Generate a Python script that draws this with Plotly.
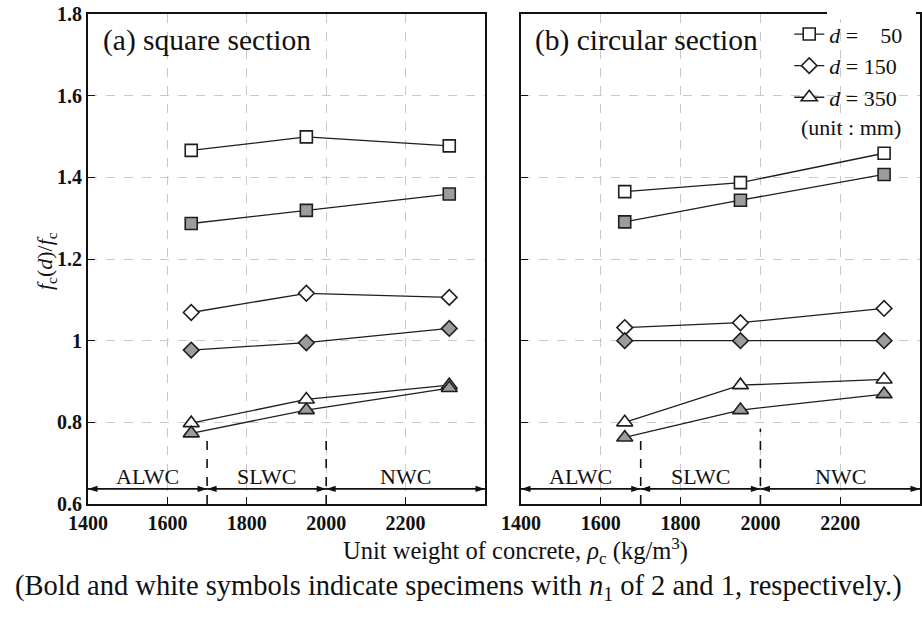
import plotly.graph_objects as go

# Unit weight of concrete (kg/m3) for the three concrete groups
density = [1660, 1950, 2310]

# (a) square section: size-effect ratio, n1 = 1 (white) and n1 = 2 (bold)
sq_d50_n1 = [1.466, 1.499, 1.477]
sq_d50_n2 = [1.287, 1.319, 1.359]
sq_d150_n1 = [1.069, 1.116, 1.106]
sq_d150_n2 = [0.977, 0.995, 1.030]
sq_d350_n1 = [0.798, 0.856, 0.891]
sq_d350_n2 = [0.773, 0.830, 0.884]

# (b) circular section
ci_d50_n1 = [1.365, 1.387, 1.459]
ci_d50_n2 = [1.291, 1.344, 1.407]
ci_d150_n1 = [1.032, 1.044, 1.079]
ci_d150_n2 = [1.000, 1.000, 1.000]
ci_d350_n1 = [0.800, 0.891, 0.905]
ci_d350_n2 = [0.763, 0.830, 0.869]

# Concrete classes and their density limits
zone_names = ["ALWC", "SLWC", "NWC"]
zone_edges = [1400, 1700, 2000, 2400]
zone_divider_tops_a = [0.762, 0.760]
zone_divider_tops_b = [0.769, 0.784]
zone_arrow_level = 0.637

x_ticks = [1400, 1600, 1800, 2000, 2200]
y_ticks = [0.6, 0.8, 1.0, 1.2, 1.4, 1.6, 1.8]
y_tick_text = ["0.6", "0.8", "1", "1.2", "1.4", "1.6", "1.8"]

SERIF = "Liberation Serif"
WHITE = "#ffffff"
GRAY = "#9c9c9c"
EDGE = "#1e1e1e"
INK = "#111111"

fig = go.Figure()

series = [
    ("square", 12, "<i>d</i> =\u2007\u200750", sq_d50_n1, sq_d50_n2, ci_d50_n1, ci_d50_n2),
    ("diamond", 12, "<i>d</i> = 150", sq_d150_n1, sq_d150_n2, ci_d150_n1, ci_d150_n2),
    ("triangle-up", 14, "<i>d</i> = 350", sq_d350_n1, sq_d350_n2, ci_d350_n1, ci_d350_n2),
]

for sym, size, name, a1, a2, b1, b2 in series:
    for vals, fill, axes, show in [
        (a1, WHITE, ("x", "y"), False),
        (a2, GRAY, ("x", "y"), False),
        (b1, WHITE, ("x2", "y2"), True),
        (b2, GRAY, ("x2", "y2"), False),
    ]:
        fig.add_trace(go.Scatter(
            x=density, y=vals, xaxis=axes[0], yaxis=axes[1],
            mode="lines+markers", name=name, showlegend=show,
            line=dict(color=EDGE, width=1.3),
            marker=dict(symbol=sym, size=size, color=fill,
                        line=dict(color=EDGE, width=1.6)),
        ))

# Concrete class ranges: double-headed arrows and dashed dividers
for xa, ya, tops in [("x", "y", zone_divider_tops_a), ("x2", "y2", zone_divider_tops_b)]:
    for i in range(len(zone_names)):
        fig.add_trace(go.Scatter(
            x=[zone_edges[i], zone_edges[i + 1]],
            y=[zone_arrow_level, zone_arrow_level],
            xaxis=xa, yaxis=ya, mode="lines+markers", showlegend=False,
            hoverinfo="skip", line=dict(color=INK, width=1.8),
            marker=dict(symbol="arrow", size=10, angle=[-90, 90], color=INK,
                        line=dict(width=0)),
            cliponaxis=False,
        ))
    for edge, top in zip(zone_edges[1:3], tops):
        fig.add_shape(type="line", xref=xa, yref=ya, x0=edge, x1=edge,
                      y0=0.6, y1=top, line=dict(color=INK, width=1.6, dash="dash"))

axis_common = dict(
    showline=True, linecolor=INK, linewidth=2, mirror=True,
    showgrid=True, gridcolor="#c9c9c9", gridwidth=1, griddash="dash",
    zeroline=False, ticks="inside", ticklen=7, tickcolor=INK,
    automargin=False,
)
tick_font = dict(size=20, weight="bold", family=SERIF, color=INK)

fig.update_layout(
    width=922, height=630,
    margin=dict(l=0, r=0, t=0, b=0),
    paper_bgcolor="white", plot_bgcolor="white",
    font=dict(family=SERIF, color=INK),
    xaxis=dict(domain=[88 / 922, 485 / 922], range=[1400, 2400],
               tickvals=x_ticks, tickfont=tick_font, **axis_common),
    yaxis=dict(domain=[0.2, 1 - 14 / 630], range=[0.6, 1.8],
               tickvals=y_ticks, ticktext=y_tick_text,
               tickfont=tick_font, **axis_common),
    xaxis2=dict(domain=[521 / 922, 920 / 922], range=[1400, 2400], anchor="y2",
                tickvals=x_ticks, tickfont=tick_font, **axis_common),
    yaxis2=dict(domain=[0.2, 1 - 14 / 630], range=[0.6, 1.8], anchor="x2",
                tickvals=y_ticks, showticklabels=False, **axis_common),
    legend=dict(x=0.856, y=0.979, xanchor="left", yanchor="top",
                bgcolor="rgba(0,0,0,0)", font=dict(size=22, family=SERIF, color=INK),
                tracegroupgap=0, itemwidth=30),
    showlegend=True,
)

# Blank strip behind the legend over the top frame line of panel (b)
fig.add_shape(type="rect", xref="paper", yref="paper",
              x0=827 / 922, x1=916 / 922, y0=1 - 19 / 630, y1=1,
              fillcolor="white", line=dict(width=0), layer="above")

# Class labels above the arrows
for xa, ya in [("x", "y"), ("x2", "y2")]:
    for i, label in enumerate(zone_names):
        fig.add_annotation(x=(zone_edges[i] + zone_edges[i + 1]) / 2, y=0.667,
                           xref=xa, yref=ya, text=label, showarrow=False,
                           font=dict(size=22, family=SERIF, color=INK))

# Panel titles
fig.add_annotation(x=101 / 922, y=1 - 40 / 630, xref="paper", yref="paper",
                   xanchor="left", yanchor="middle", text="(a) square section",
                   showarrow=False, font=dict(size=29.5, family=SERIF, color=INK))
fig.add_annotation(x=533 / 922, y=1 - 40 / 630, xref="paper", yref="paper",
                   xanchor="left", yanchor="middle", text="(b) circular section",
                   showarrow=False, font=dict(size=29.5, family=SERIF, color=INK))
fig.add_annotation(x=851 / 922, y=1 - 128 / 630, xref="paper", yref="paper",
                   xanchor="center", yanchor="middle", text="(unit : mm)",
                   showarrow=False, font=dict(size=22, family=SERIF, color=INK))

# Axis titles and note
fig.add_annotation(x=30 / 922, y=1 - 261 / 630, xref="paper", yref="paper",
                   text="<i>f</i><sub>c</sub>(<i>d</i>)/<i>f</i><sub>c</sub>",
                   textangle=-90, showarrow=False,
                   font=dict(size=22, family=SERIF, color=INK))
fig.add_annotation(x=515 / 922, y=1 - 570 / 630, xref="paper", yref="paper",
                   text="Unit weight of concrete, <i>ρ</i><sub>c</sub> (kg/m<sup>3</sup>)",
                   showarrow=False, font=dict(size=24.5, family=SERIF, color=INK))
fig.add_annotation(x=458 / 922, y=1 - 607 / 630, xref="paper", yref="paper",
                   text="(Bold and white symbols indicate specimens with <i>n</i><sub>1</sub> of 2 and 1, respectively.)",
                   showarrow=False, font=dict(size=28.5, family=SERIF, color=INK))

fig.write_html("out.html")
